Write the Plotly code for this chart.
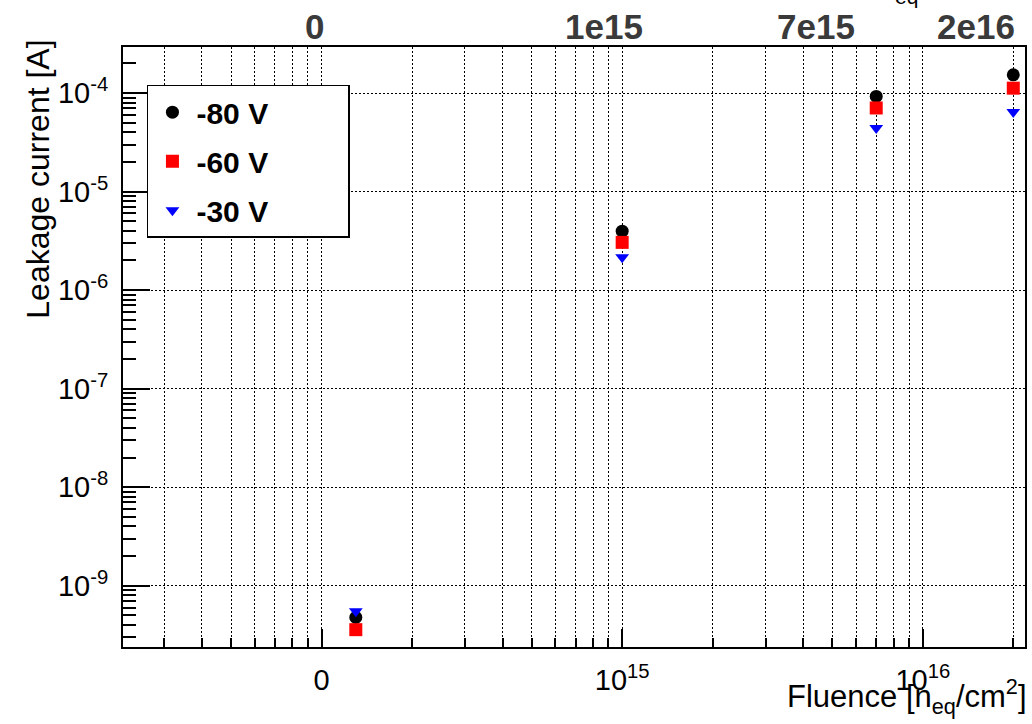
import plotly.graph_objects as go

# Fluence points (the unirradiated sample is drawn just right of the "0" tick)
fluence_pos = [1.3e14, 1e15, 7e15, 2e16]
fluence_labels = ["0", "1e15", "7e15", "2e16"]

# Leakage current [A] at each bias voltage
current_80v = [4.77e-10, 3.96e-6, 9.24e-5, 1.53e-4]
current_60v = [3.58e-10, 3.05e-6, 7.05e-5, 1.12e-4]
current_30v = [5.5e-10, 2.15e-6, 4.42e-5, 6.42e-5]
voltage_names = ["-80 V", "-60 V", "-30 V"]

# Axis ticks
x_major = [1e14, 1e15, 1e16]
x_major_text = ["0", "10<sup>15</sup>", "10<sup>16</sup>"]
y_major = [1e-9, 1e-8, 1e-7, 1e-6, 1e-5, 1e-4]
y_major_text = ["10<sup>-9</sup>", "10<sup>-8</sup>", "10<sup>-7</sup>",
                "10<sup>-6</sup>", "10<sup>-5</sup>", "10<sup>-4</sup>"]

x_minor = [k * 10 ** n for n in range(13, 17) for k in range(2, 10)]
y_minor = [k * 10.0 ** n for n in range(-10, -3) for k in range(2, 10)]

FONT = "Liberation Sans, Arial, Helvetica, sans-serif"
PAD = "\u00a0" * 9

fig = go.Figure()
styles = [
    dict(symbol="circle", color="black", size=13),
    dict(symbol="square", color="red", size=13),
    dict(symbol="triangle-down", color="blue", size=12),
]
for name, vals, st in zip(voltage_names, [current_80v, current_60v, current_30v], styles):
    fig.add_trace(go.Scatter(
        x=fluence_pos, y=vals, mode="markers", name=name + PAD,
        legendgroup=name,
        marker=dict(symbol=st["symbol"], color=st["color"], size=st["size"],
                    line=dict(width=0)),
    ))

GRID = dict(gridcolor="black", gridwidth=1.2, griddash="2px,2px")

fig.update_xaxes(
    type="log", range=[13.3395, 16.340],
    tickmode="array", tickvals=x_major, ticktext=x_major_text,
    ticks="inside", ticklen=18, tickwidth=1.5, tickcolor="black",
    tickfont=dict(size=29, family=FONT, color="black"),
    ticklabelstandoff=6,
    showgrid=True, **GRID,
    showline=True, linecolor="black", linewidth=2, mirror=True,
    zeroline=False,
    minor=dict(tickmode="array", tickvals=x_minor, ticks="inside", ticklen=9,
               tickwidth=1.5, tickcolor="black", showgrid=True, **GRID),
)
fig.update_yaxes(
    type="log", range=[-9.622, -3.533],
    tickmode="array", tickvals=y_major, ticktext=y_major_text,
    ticks="inside", ticklen=27, tickwidth=1.5, tickcolor="black",
    tickfont=dict(size=29, family=FONT, color="black"),
    ticklabelstandoff=7,
    showgrid=True, **GRID,
    showline=True, linecolor="black", linewidth=2, mirror=True,
    zeroline=False,
    minor=dict(tickmode="array", tickvals=y_minor, ticks="inside", ticklen=13,
               tickwidth=1.5, tickcolor="black", showgrid=False),
)

annotations = []
# Fluence labels above the frame
label_px = [315, 605, 817, 978]
for lab, px in zip(fluence_labels, label_px):
    annotations.append(dict(
        text=lab, xref="paper", yref="paper",
        x=(px - 122.7) / 904, y=(647.3 - 27) / 600,
        xanchor="center", yanchor="middle", showarrow=False,
        font=dict(size=35, family=FONT, color="#3a3a3a", weight="bold"),
    ))
# Axis titles
annotations.append(dict(
    text="Fluence [n<sub>eq</sub>/cm<sup>2</sup>]", xref="paper", yref="paper",
    x=(1031 - 122.7) / 904, y=(647.3 - 697) / 600,
    xanchor="right", yanchor="middle", showarrow=False,
    font=dict(size=31, family=FONT, color="black"),
))
# Subscript of the upper title that peeks in at the top edge
annotations.append(dict(
    text="eq", xref="paper", yref="paper",
    x=(908 - 122.7) / 904, y=(647.3 - 10) / 600,
    xanchor="center", yanchor="bottom", showarrow=False,
    font=dict(size=21, family=FONT, color="black"),
))
annotations.append(dict(
    text="Leakage current [A]", xref="paper", yref="paper",
    x=(38 - 122.7) / 904, y=(647.3 - 38) / 600,
    xanchor="center", yanchor="top", textangle=-90, showarrow=False,
    font=dict(size=32, family=FONT, color="black"),
))

fig.update_layout(
    width=1032, height=724,
    margin=dict(l=123, r=5, t=47, b=77),
    plot_bgcolor="white", paper_bgcolor="white",
    font=dict(family=FONT, color="black"),
    showlegend=True,
    legend=dict(
        x=(146.7 - 122.7) / 904, y=(647.3 - 85) / 600,
        xanchor="left", yanchor="top",
        bordercolor="black", borderwidth=1.5, bgcolor="white",
        font=dict(size=30, family=FONT, color="black", weight="bold"),
        tracegroupgap=7, itemwidth=38,
    ),
    annotations=annotations,
)

fig.write_html("out.html")
